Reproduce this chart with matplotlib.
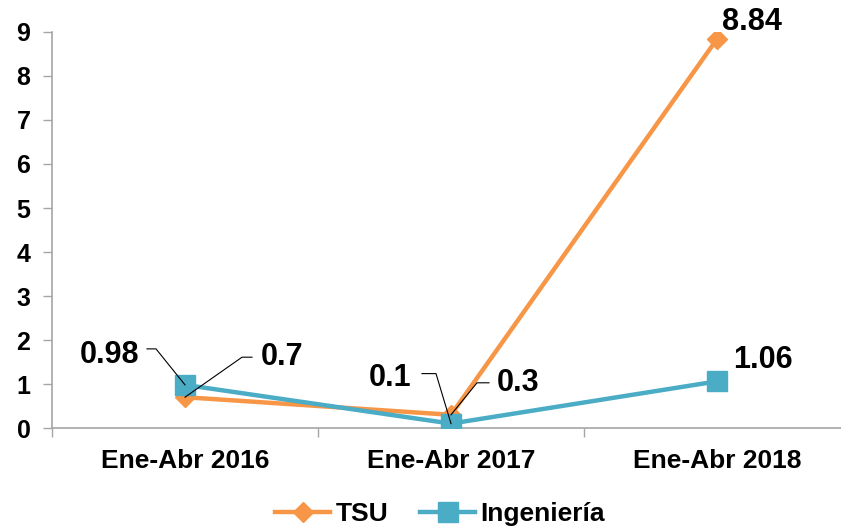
import matplotlib
matplotlib.use("Agg")
import matplotlib.pyplot as plt
from matplotlib.ticker import FixedLocator

categories = ["Ene-Abr 2016", "Ene-Abr 2017", "Ene-Abr 2018"]
tsu = [0.7, 0.3, 8.84]
ing = [0.98, 0.1, 1.06]
tsu_labels = ["0.7", "0.3", "8.84"]
ing_labels = ["0.98", "0.1", "1.06"]
yticks = list(range(0, 10))

plt.rcParams['font.family'] = ['Liberation Sans', 'DejaVu Sans']
plt.rcParams['font.weight'] = 'bold'

ORANGE = '#F79646'
BLUE = '#4BACC6'
GRAY = '#A6A6A6'

fig = plt.figure(figsize=(8.41, 5.29), dpi=100)
W, H = 841, 529
ax = fig.add_axes([52 / W, (H - 428) / H, 1 - 52 / W, (428 - 32) / H])

x = list(range(len(categories)))
ax.plot(x, tsu, color=ORANGE, lw=3.2, marker='D', markersize=10, zorder=3, label='TSU')
ax.plot(x, ing, color=BLUE, lw=3.2, marker='s', markersize=14, zorder=4, label='Ingeniería')

ax.set_ylim(0, 9)
ax.set_xlim(-0.5, 2.5 - 9 / 266)
ax.set_yticks(yticks)
ax.set_xticks(x)
ax.set_xticklabels(categories, fontsize=19, fontweight='bold')
ax.xaxis.set_minor_locator(FixedLocator([-0.5, 0.5, 1.5, 2.5]))
ax.tick_params(axis='x', which='major', length=0, pad=15)
ax.tick_params(axis='x', which='minor', length=6.5, color=GRAY, width=1)
ax.tick_params(axis='y', length=6.5, color=GRAY, width=1, pad=9, labelsize=18)
for lab in ax.get_yticklabels():
    lab.set_fontweight('bold')

for s in ['top', 'right']:
    ax.spines[s].set_visible(False)
for s in ['left', 'bottom']:
    ax.spines[s].set_color(GRAY)
    ax.spines[s].set_linewidth(1.2)


def label(xi, yi, text, tx, ty, ha):
    ax.annotate(text, xy=(xi, yi), xytext=(tx, ty), textcoords='offset pixels',
                ha=ha, va='center', fontsize=22, fontweight='bold', zorder=6)


def leader_label(xi, yi, text, tx, ty, ha, e, h):
    label(xi, yi, text, tx, ty, ha)
    trans = ax.transData
    px, py = trans.transform((xi, yi))
    inv = trans.inverted()
    p_el = inv.transform((px + e[0], py + e[1]))
    p_h = inv.transform((px + h[0], py + h[1]))
    ax.plot([xi, p_el[0], p_h[0]], [yi, p_el[1], p_h[1]], color='black', lw=0.8,
            zorder=6, clip_on=False)


leader_label(x[0], ing[0], ing_labels[0], -46, 30, 'right', (-29, 36), (-38, 36))
leader_label(x[0], tsu[0], tsu_labels[0], 76, 40, 'left', (57, 40), (67, 40))
leader_label(x[1], ing[1], ing_labels[1], -40, 46, 'right', (-15, 50), (-29, 50))
leader_label(x[1], tsu[1], tsu_labels[1], 46, 32, 'left', (26, 32), (38, 32))
label(x[2], tsu[2], tsu_labels[2], 5, 17, 'left')
label(x[2], ing[2], ing_labels[2], 16, 21, 'left')

leg = fig.legend(loc='center', bbox_to_anchor=(440 / W, 15 / H), ncol=2, frameon=False,
                 prop={'size': 19, 'weight': 'bold'}, handlelength=2.1,
                 columnspacing=1.2, handletextpad=0.2)

fig.savefig('out.png', dpi=100)
